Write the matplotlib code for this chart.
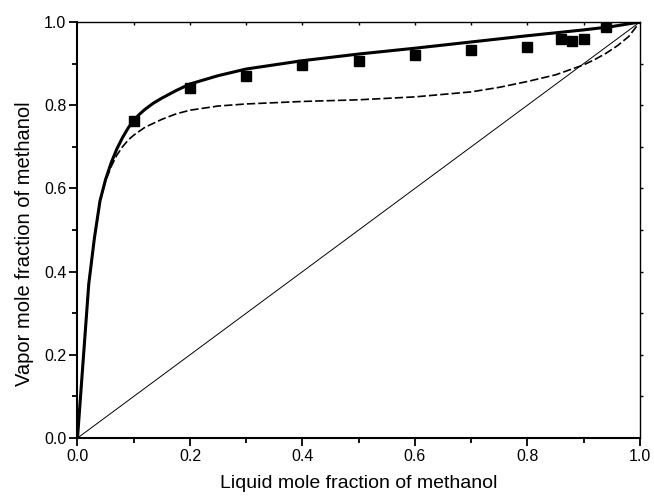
import matplotlib
matplotlib.use("Agg")
import matplotlib.pyplot as plt
import numpy as np

plt.rcParams['font.family'] = ['Liberation Sans', 'DejaVu Sans']
plt.rcParams['lines.scale_dashes'] = False

# experimental VLE data, methanol
x_exp = [0.10, 0.20, 0.30, 0.40, 0.50, 0.60, 0.70, 0.80, 0.86, 0.88, 0.90, 0.94]
y_exp = [0.762, 0.841, 0.871, 0.897, 0.907, 0.921, 0.933, 0.941, 0.959, 0.955, 0.958, 0.989]

# model curve (solid)
x_fit = [0.0, 0.02, 0.03, 0.04, 0.05, 0.06, 0.07, 0.08, 0.09, 0.10, 0.11, 0.12, 0.135,
         0.15, 0.175, 0.20, 0.25, 0.30, 0.40, 0.50, 0.60, 0.70, 0.80, 0.90, 0.95, 1.0]
y_fit = [0.0, 0.37, 0.48, 0.57, 0.622, 0.662, 0.695, 0.722, 0.745, 0.764, 0.778, 0.790, 0.805,
         0.817, 0.835, 0.851, 0.871, 0.887, 0.907, 0.923, 0.937, 0.952, 0.967, 0.981, 0.989, 1.0]

# model curve (dashed)
x_pred = [0.0, 0.02, 0.03, 0.04, 0.05, 0.06, 0.07, 0.08, 0.09, 0.10, 0.12, 0.15,
          0.175, 0.20, 0.25, 0.30, 0.40, 0.50, 0.60, 0.70, 0.75, 0.80, 0.85, 0.90,
          0.92, 0.94, 0.96, 0.98, 1.0]
y_pred = [0.0, 0.37, 0.48, 0.57, 0.618, 0.653, 0.680, 0.700, 0.716, 0.728, 0.747, 0.766,
          0.779, 0.788, 0.798, 0.803, 0.809, 0.813, 0.820, 0.832, 0.843, 0.857, 0.873, 0.897,
          0.910, 0.925, 0.943, 0.965, 1.0]

diag = [0.0, 1.0]

fig = plt.figure(figsize=(6.54, 5.01), dpi=100)
ax = fig.add_axes([0.1185, 0.1257, 0.86, 0.8304])

ax.plot(diag, diag, color='black', lw=0.7)
ax.plot(x_pred, y_pred, color='black', lw=1.2, dashes=(6, 2.2))
ax.plot(x_fit, y_fit, color='black', lw=2.2)
ax.plot(x_exp, y_exp, 's', color='black', ms=7)

ax.set_xlim(0, 1)
ax.set_ylim(0, 1)
major = np.arange(0, 1.01, 0.2)
minor = np.arange(0.1, 1.0, 0.2)
ax.set_xticks(major)
ax.set_yticks(major)
ax.set_xticks(minor, minor=True)
ax.set_yticks(minor, minor=True)
ax.xaxis.set_major_formatter(matplotlib.ticker.FormatStrFormatter('%.1f'))
ax.yaxis.set_major_formatter(matplotlib.ticker.FormatStrFormatter('%.1f'))

ax.tick_params(which='both', direction='out', width=1.3, labelsize=11.5)
ax.tick_params(which='major', length=6, pad=2)
ax.tick_params(which='minor', length=3.5)
for side in ['bottom', 'left']:
    ax.spines[side].set_linewidth(1.5)
for side in ['top', 'right']:
    ax.spines[side].set_linewidth(1.0)

# small mirrored ticks on top and right
top = ax.secondary_xaxis('top')
top.set_xticks(np.arange(0.1, 1.0, 0.1))
top.tick_params(length=2, width=1, direction='in', labeltop=False)
top.spines['top'].set_visible(False)
right = ax.secondary_yaxis('right')
right.set_yticks(np.arange(0.1, 1.0, 0.1))
right.tick_params(length=2, width=1, direction='out', labelright=False)
right.spines['right'].set_visible(False)

ax.set_xlabel('Liquid mole fraction of methanol', fontsize=14, labelpad=8)
ax.set_ylabel('Vapor mole fraction of methanol', fontsize=14.5)
ax.yaxis.set_label_coords(-0.078, 0.466)

fig.savefig('out.png', dpi=100)
